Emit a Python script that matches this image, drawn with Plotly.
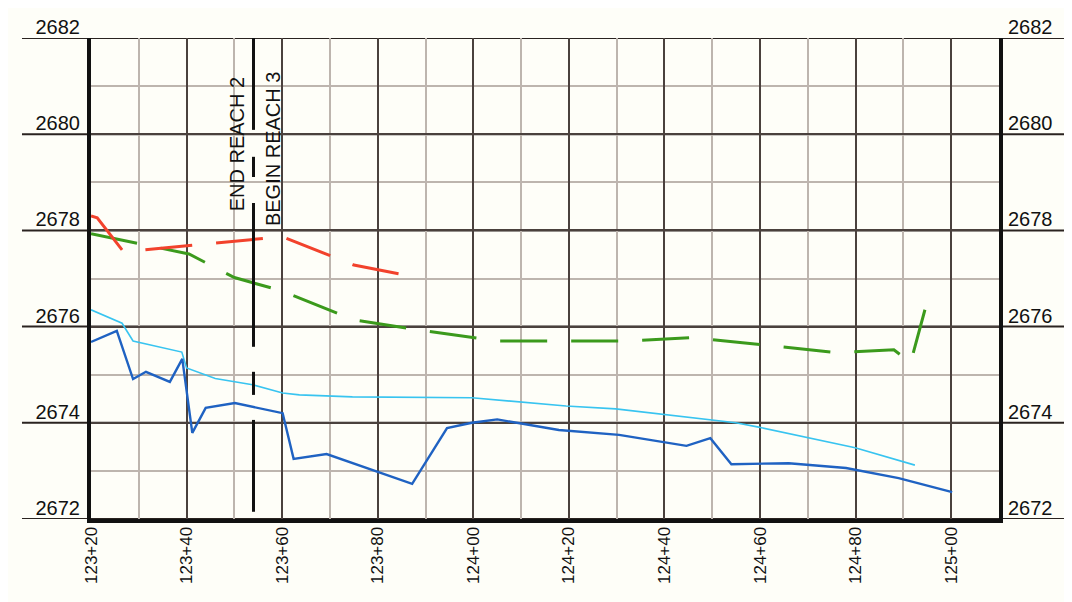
import plotly.graph_objects as go

# stations in feet (123+20 -> 12320), elevations in feet
STA_TICKS = [12320, 12340, 12360, 12380, 12400, 12420, 12440, 12460, 12480, 12500]
STA_LABELS = ["123+20", "123+40", "123+60", "123+80", "124+00",
              "124+20", "124+40", "124+60", "124+80", "125+00"]
ELEV_TICKS = [2672, 2674, 2676, 2678, 2680, 2682]

# red dashed profile
red_sta = [12320, 12321.3, 12326.7, 12328.2, 12360, 12375, 12389]
red_elev = [2678.30, 2678.26, 2677.57, 2677.57, 2677.87, 2677.28, 2677.01]

# green dashed profile
green_sta = [12320, 12340.5, 12350, 12360, 12375, 12390, 12405, 12432,
             12446, 12476, 12488, 12491.5, 12494.5]
green_elev = [2677.93, 2677.51, 2677.02, 2676.74, 2676.14, 2675.91, 2675.70, 2675.70,
              2675.77, 2675.46, 2675.52, 2675.25, 2676.35]

# light blue profile
cyan_sta = [12320, 12326.5, 12328.8, 12339, 12340, 12346, 12353.8, 12360.1, 12363.6,
            12374.7, 12399.7, 12409.6, 12419.4, 12429.8, 12439.4, 12454.9, 12459.7,
            12479.9, 12492.4]
cyan_elev = [2676.35, 2676.07, 2675.70, 2675.47, 2675.14, 2674.92, 2674.79, 2674.62, 2674.58,
             2674.54, 2674.52, 2674.43, 2674.35, 2674.29, 2674.18, 2674.00, 2673.91,
             2673.48, 2673.12]

# dark blue profile
blue_sta = [12320, 12325.4, 12328.8, 12331.5, 12336.5, 12339.1, 12341.2, 12344, 12350.1,
            12360.1, 12362.4, 12369.3, 12387.2, 12394.5, 12399.7, 12405, 12417.9,
            12430.5, 12444.6, 12449.6, 12454, 12466, 12478, 12489, 12500.2]
blue_elev = [2675.68, 2675.91, 2674.91, 2675.06, 2674.85, 2675.33, 2673.79, 2674.31, 2674.41,
             2674.20, 2673.25, 2673.35, 2672.73, 2673.89, 2674.00, 2674.07, 2673.85,
             2673.75, 2673.52, 2673.68, 2673.14, 2673.16, 2673.06, 2672.85, 2672.56]

# reach break marker (station and the drawn pieces of the line)
REACH_BREAK_STA = 12354
REACH_BREAK_SEGS = [(2682.0, 2680.09), (2679.53, 2679.11), (2678.57, 2675.58),
                    (2675.06, 2674.58), (2674.06, 2672.15)]

FONT = "Liberation Sans, Arial, sans-serif"
DARK_GRID = "#4a413d"
LIGHT_GRID = "#bdb5ae"

fig = go.Figure()

brk_x, brk_y = [], []
for top, bottom in REACH_BREAK_SEGS:
    brk_x += [REACH_BREAK_STA, REACH_BREAK_STA, None]
    brk_y += [top, bottom, None]

fig.add_trace(go.Scatter(x=cyan_sta, y=cyan_elev, mode="lines",
                         line=dict(color="#38c4f0", width=1.6)))
fig.add_trace(go.Scatter(x=blue_sta, y=blue_elev, mode="lines",
                         line=dict(color="#1f62c2", width=2.4)))
fig.add_trace(go.Scatter(x=green_sta, y=green_elev, mode="lines",
                         line=dict(color="#3b9a1c", width=3, dash="47px,24px")))
fig.add_trace(go.Scatter(x=red_sta, y=red_elev, mode="lines",
                         line=dict(color="#f2422c", width=3, dash="47px,24px")))
fig.add_trace(go.Scatter(x=brk_x, y=brk_y, mode="lines", yaxis="y2",
                         line=dict(color="#111111", width=3)))

fig.add_annotation(x=REACH_BREAK_STA, y=2679.8, xshift=-17, text="END REACH 2",
                   textangle=-90, showarrow=False, font=dict(size=20, color="#111"))
fig.add_annotation(x=REACH_BREAK_STA, y=2679.7, xshift=19, text="BEGIN REACH 3",
                   textangle=-90, showarrow=False, font=dict(size=20, color="#111"))

# elevation lines run out past both borders under the labels
for elev in ELEV_TICKS:
    fig.add_shape(type="line", xref="paper", yref="y", x0=-0.076, x1=1.076,
                  y0=elev, y1=elev, line=dict(color="#2a2320", width=2), layer="below")

yaxis_common = dict(
    range=[2672, 2682],
    tickmode="array", tickvals=ELEV_TICKS,
    ticks="", ticklabelshift=-11,
    tickfont=dict(size=20, color="#111"),
    zeroline=False, automargin=False,
)

# the page body has an 8px margin, so the plot box is moved up/left by 8px
fig.update_layout(
    width=1072, height=602, autosize=False,
    margin=dict(l=83, r=81, t=30, b=91),
    paper_bgcolor="#fefef8", plot_bgcolor="#fefef8",
    showlegend=False,
    font=dict(family=FONT, color="#111"),
    xaxis=dict(
        range=[12320, 12510],
        tickmode="array", tickvals=STA_TICKS, ticktext=STA_LABELS,
        tickangle=-90, tickfont=dict(size=17, color="#111"),
        ticklabelstandoff=-3,
        showgrid=True, gridcolor=DARK_GRID, gridwidth=2,
        minor=dict(tick0=12320, dtick=10, showgrid=True, gridcolor=LIGHT_GRID, gridwidth=2),
        showline=True, linecolor="#111", linewidth=4,
        zeroline=False, automargin=False,
    ),
    yaxis=dict(
        **yaxis_common,
        ticklabelstandoff=3,
        showgrid=True, gridcolor=DARK_GRID, gridwidth=2,
        minor=dict(tick0=2672, dtick=1, showgrid=True, gridcolor=LIGHT_GRID, gridwidth=2),
        showline=True, linecolor="#111", linewidth=4, mirror=True,
    ),
    yaxis2=dict(
        **yaxis_common,
        ticklabelstandoff=8,
        overlaying="y", side="right",
        showgrid=False, showline=False,
    ),
)

fig.write_html("out.html")
